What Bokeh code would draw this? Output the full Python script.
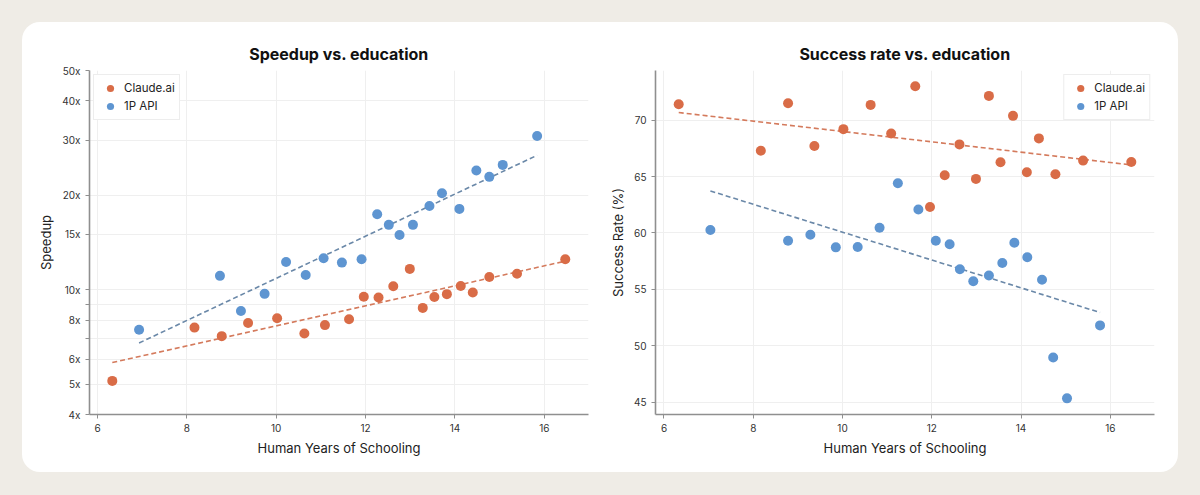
from bokeh.plotting import figure
from bokeh.models import Range1d, FixedTicker, Legend, LegendItem, GlobalInlineStyleSheet, Spacer
from bokeh.layouts import row, column
from bokeh.embed import file_html
from bokeh.resources import INLINE
import numpy as np

# data
claude_x = [6.33, 8.17, 8.78, 9.37, 10.02, 10.63, 11.09, 11.63, 11.96, 12.29,
            12.62, 12.99, 13.28, 13.54, 13.82, 14.13, 14.40, 14.77, 15.39, 16.47]
claude_speedup = [5.12, 7.57, 7.11, 7.83, 8.11, 7.25, 7.71, 8.05, 9.50, 9.44,
                  10.26, 11.65, 8.75, 9.48, 9.68, 10.28, 9.80, 10.98, 11.25, 12.50]
claude_success = [71.41, 67.29, 71.50, 67.70, 69.20, 71.35, 68.82, 73.00, 62.29, 65.11,
                  67.85, 64.79, 72.15, 66.26, 70.38, 65.38, 68.38, 65.20, 66.41, 66.29]

api_x_speed = [6.93, 8.74, 9.21, 9.74, 10.22, 10.66, 11.06, 11.47, 11.91, 12.26,
               12.52, 12.76, 13.06, 13.43, 13.71, 14.10, 14.48, 14.77, 15.07, 15.84]
api_speedup = [7.45, 11.07, 8.55, 9.70, 12.25, 11.14, 12.60, 12.20, 12.50, 17.40,
               16.10, 14.95, 16.10, 18.50, 20.30, 18.10, 24.00, 22.90, 25.00, 30.90]

api_x_success = [7.04, 8.78, 9.28, 9.85, 10.34, 10.83, 11.24, 11.70, 12.09, 12.40,
                 12.63, 12.93, 13.28, 13.58, 13.85, 14.14, 14.47, 14.72, 15.03, 15.77]
api_success = [60.26, 59.31, 59.84, 58.72, 58.75, 60.46, 64.41, 62.08, 59.31, 58.99,
               56.78, 55.72, 56.22, 57.34, 59.13, 57.84, 55.84, 48.95, 45.33, 51.80]

x_ticks = [6, 8, 10, 12, 14, 16]
speed_ticks = [4, 5, 6, 8, 10, 15, 20, 30, 40, 50]
speed_tick_labels = ["4x", "5x", "6x", "8x", "10x", "15x", "20x", "30x", "40x", "50x"]
speed_minor_ticks = [7, 9]
success_ticks = [45, 50, 55, 60, 65, 70]

ORANGE = "#d96c47"
BLUE = "#5e95d1"
ORANGE_TREND = "#d47a5c"
BLUE_TREND = "#6a88a8"
FONT = "Inter"


def trend(x, y, log=False):
    x = np.asarray(x)
    y = np.log10(y) if log else np.asarray(y)
    k, b = np.polyfit(x, y, 1)
    xs = np.array([x.min(), x.max()])
    ys = k * xs + b
    return xs, (10 ** ys if log else ys)


def style(p):
    p.toolbar_location = None
    p.outline_line_color = None
    p.border_fill_color = None
    p.background_fill_color = "white"
    p.title.text_font = FONT
    p.title.text_font_style = "bold"
    p.title.text_font_size = "16px"
    p.title.text_color = "#111111"
    p.title.align = "center"
    p.title.standoff = 13
    for ax in (p.xaxis, p.yaxis):
        ax.axis_line_color = "#8f8f8f"
        ax.axis_line_width = 1.6
        ax.major_tick_line_color = "#8f8f8f"
        ax.minor_tick_line_color = "#8f8f8f"
        ax.major_tick_in = 0
        ax.major_tick_out = 4
        ax.minor_tick_in = 0
        ax.minor_tick_out = 0
        ax.major_label_text_font = FONT
        ax.major_label_text_font_size = "10px"
        ax.major_label_text_color = "#333333"
        ax.axis_label_text_font = FONT
        ax.axis_label_text_font_size = "13px"
        ax.axis_label_text_font_style = "normal"
        ax.axis_label_text_color = "#222222"
    p.xgrid.grid_line_color = "#efefef"
    p.ygrid.grid_line_color = "#efefef"
    p.xaxis.ticker = FixedTicker(ticks=x_ticks)


def add_legend(p, r1, r2, loc):
    lg = Legend(items=[LegendItem(label="Claude.ai", renderers=[r1]),
                       LegendItem(label="1P API", renderers=[r2])],
                location=loc)
    lg.label_text_font = FONT
    lg.label_text_font_size = "11.5px"
    lg.label_text_color = "#222222"
    lg.glyph_width = 24
    lg.glyph_height = 18
    lg.label_height = 18
    lg.spacing = 0
    lg.padding = 4
    lg.margin = 4
    lg.label_standoff = 2
    lg.border_line_color = "#dcdcdc"
    lg.background_fill_color = "white"
    lg.background_fill_alpha = 1.0
    p.add_layout(lg)


# left: speedup, log axis
p1 = figure(width=578, height=450, output_backend="svg", toolbar_location=None,
            y_axis_type="log", x_range=Range1d(5.82, 16.99), y_range=Range1d(4, 50),
            title="Speedup vs. education",
            x_axis_label="Human Years of Schooling", y_axis_label="Speedup",
            min_border_left=67, min_border_right=12, min_border_top=48, min_border_bottom=57)
style(p1)
p1.yaxis.ticker = FixedTicker(ticks=speed_ticks, minor_ticks=speed_minor_ticks)
p1.yaxis.major_label_overrides = dict(zip(speed_ticks, speed_tick_labels))
p1.yaxis.minor_tick_out = 4
p1.ygrid.minor_grid_line_color = "#efefef"

tx, ty = trend(claude_x, claude_speedup, log=True)
p1.line(tx, ty, line_color=ORANGE_TREND, line_width=1.6, line_dash="5 3")
tx, ty = trend(api_x_speed, api_speedup, log=True)
p1.line(tx, ty, line_color=BLUE_TREND, line_width=1.6, line_dash="5 3")
r1 = p1.scatter(claude_x, claude_speedup, size=10, color=ORANGE, line_color=None)
r2 = p1.scatter(api_x_speed, api_speedup, size=10, color=BLUE, line_color=None)
add_legend(p1, r1, r2, "top_left")

# right: success rate
p2 = figure(width=578, height=450, output_backend="svg", toolbar_location=None,
            x_range=Range1d(5.81, 16.99), y_range=Range1d(43.9, 74.4),
            title="Success rate vs. education",
            x_axis_label="Human Years of Schooling", y_axis_label="Success Rate (%)",
            min_border_left=55, min_border_right=24, min_border_top=48, min_border_bottom=58)
style(p2)
p2.yaxis.ticker = FixedTicker(ticks=success_ticks)

tx, ty = trend(claude_x, claude_success)
p2.line(tx, ty, line_color=ORANGE_TREND, line_width=1.6, line_dash="5 3")
tx, ty = trend(api_x_success, api_success)
p2.line(tx, ty, line_color=BLUE_TREND, line_width=1.6, line_dash="5 3")
r3 = p2.scatter(claude_x, claude_success, size=10, color=ORANGE, line_color=None)
r4 = p2.scatter(api_x_success, api_success, size=10, color=BLUE, line_color=None)
add_legend(p2, r3, r4, "top_right")

page_css = GlobalInlineStyleSheet(css="body { background-color: #efece6; }")
card = row(p1, p2, styles={"background-color": "white", "border-radius": "18px", "overflow": "hidden"})
layout = column(Spacer(height=22), row(Spacer(width=22), card), stylesheets=[page_css])

open("out.html", "w").write(file_html(layout, INLINE))
